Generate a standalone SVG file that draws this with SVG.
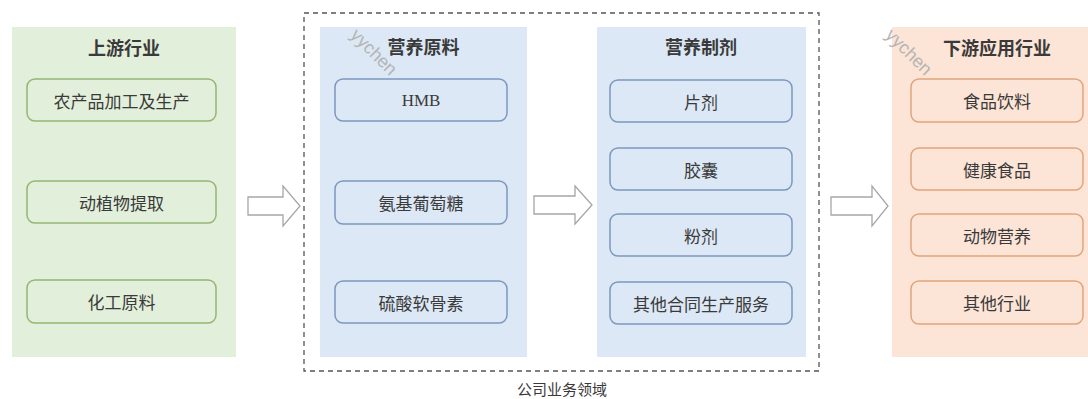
<svg xmlns="http://www.w3.org/2000/svg" width="1088" height="399" viewBox="0 0 1088 399">
<style>
text{font-family:"Noto Sans CJK SC","Liberation Serif",sans-serif;fill:#3a3a3a;text-anchor:middle;dominant-baseline:central}
.title{font-size:18px;font-weight:bold}
.lbl{font-size:17px}
.g-panel{fill:#e2efda}
.b-panel{fill:#dce8f5}
.o-panel{fill:#fce4d6}
.g-box{fill:#e2efda;stroke:#93b672;stroke-width:1.5}
.b-box{fill:#dce8f5;stroke:#7d97bf;stroke-width:1.5}
.o-box{fill:#fce4d6;stroke:#dfa57c;stroke-width:1.5}
.arrow{fill:#ffffff;stroke:#a6a6a6;stroke-width:1.3}
.wm{font-family:"Liberation Sans",sans-serif;font-size:18px;fill:#b4b4b4}
</style>
<rect x="0" y="0" width="1088" height="399" fill="#ffffff"/>
<g id="company-domain">
<rect x="304" y="13" width="515" height="358" fill="none" stroke="#555" stroke-width="1.3" stroke-dasharray="5,4"/>
<text x="562" y="388" style="font-size:15px">公司业务领域</text>
</g>
<g id="upstream">
<rect class="g-panel" x="12" y="27" width="224" height="330"/>
<text class="title" x="124" y="47">上游行业</text>
<g id="up-1"><rect class="g-box" x="27" y="79" width="189" height="42" rx="8"/><text class="lbl" x="121.5" y="100">农产品加工及生产</text></g>
<g id="up-2"><rect class="g-box" x="27" y="181" width="189" height="42" rx="8"/><text class="lbl" x="121.5" y="202">动植物提取</text></g>
<g id="up-3"><rect class="g-box" x="27" y="280" width="189" height="43" rx="8"/><text class="lbl" x="121.5" y="301.5">化工原料</text></g>
</g>
<g id="raw-materials">
<rect class="b-panel" x="320" y="27" width="207" height="330"/>
<text class="title" x="423.5" y="46">营养原料</text>
<g id="raw-1"><rect class="b-box" x="335" y="79" width="172" height="42" rx="8"/><text class="lbl" x="421" y="100" style="font-family:'Liberation Serif',serif;font-size:17px">HMB</text></g>
<g id="raw-2"><rect class="b-box" x="335" y="181" width="172" height="43" rx="8"/><text class="lbl" x="421" y="202.5">氨基葡萄糖</text></g>
<g id="raw-3"><rect class="b-box" x="335" y="281" width="172" height="42" rx="8"/><text class="lbl" x="421" y="302">硫酸软骨素</text></g>
</g>
<g id="formulations">
<rect class="b-panel" x="597" y="27" width="209" height="330"/>
<text class="title" x="701" y="46">营养制剂</text>
<g id="f-1"><rect class="b-box" x="610" y="80" width="182" height="42" rx="8"/><text class="lbl" x="701" y="101">片剂</text></g>
<g id="f-2"><rect class="b-box" x="610" y="148" width="182" height="42" rx="8"/><text class="lbl" x="701" y="169">胶囊</text></g>
<g id="f-3"><rect class="b-box" x="610" y="214" width="182" height="42" rx="8"/><text class="lbl" x="701" y="235">粉剂</text></g>
<g id="f-4"><rect class="b-box" x="610" y="282" width="182" height="42" rx="8"/><text class="lbl" x="701" y="303">其他合同生产服务</text></g>
</g>
<g id="downstream">
<rect class="o-panel" x="892" y="27" width="196" height="330"/>
<text class="title" x="997" y="47">下游应用行业</text>
<g id="d-1"><rect class="o-box" x="911" y="79" width="172" height="43" rx="8"/><text class="lbl" x="997" y="100.5">食品饮料</text></g>
<g id="d-2"><rect class="o-box" x="911" y="148" width="172" height="42" rx="8"/><text class="lbl" x="997" y="169">健康食品</text></g>
<g id="d-3"><rect class="o-box" x="911" y="214" width="172" height="42" rx="8"/><text class="lbl" x="997" y="235">动物营养</text></g>
<g id="d-4"><rect class="o-box" x="911" y="281" width="172" height="43" rx="8"/><text class="lbl" x="997" y="302.5">其他行业</text></g>
</g>
<g id="connectors">
<polygon class="arrow" points="248,197 283,197 283,186 300,206 283,226 283,215 248,215"/>
<polygon class="arrow" points="534,196 575,196 575,186 592,205 575,224 575,214 534,214"/>
<polygon class="arrow" points="831,197 872,197 872,186 888,206 872,226 872,215 831,215"/>
</g>
<g id="watermarks">
<text class="wm" x="374" y="52" transform="rotate(45 374 52)">yychen</text>
<text class="wm" x="909" y="52" transform="rotate(45 909 52)">yychen</text>
</g>
</svg>
